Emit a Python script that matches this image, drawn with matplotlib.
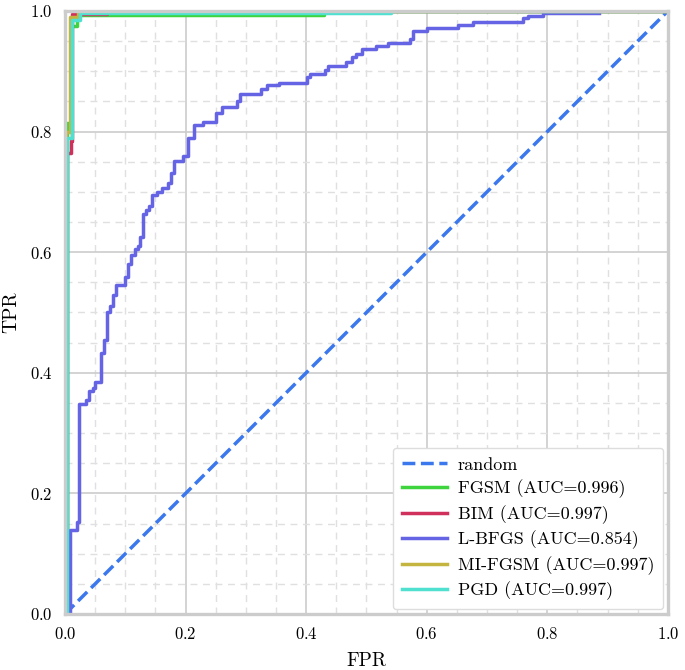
import matplotlib
matplotlib.use('Agg')
import matplotlib.pyplot as plt
from matplotlib.ticker import MultipleLocator

plt.rcParams['font.family'] = ['cmr10', 'DejaVu Serif']
plt.rcParams['axes.formatter.use_mathtext'] = True
plt.rcParams['mathtext.fontset'] = 'cm'

# ROC curves
fgsm_fpr = [0.0, 0.003, 0.003, 0.010, 0.010, 0.020, 0.020, 0.43, 0.43, 1.0]
fgsm_tpr = [0.0, 0.0, 0.815, 0.815, 0.975, 0.975, 0.994, 0.994, 1.0, 1.0]

bim_fpr = [0.0, 0.004, 0.004, 0.009, 0.009, 0.012, 0.012, 0.07, 0.07, 1.0]
bim_tpr = [0.0, 0.0, 0.765, 0.765, 0.785, 0.785, 0.995, 0.995, 1.0, 1.0]

lbfgs_fpr = [0.0, 0.008, 0.008, 0.019, 0.019, 0.023, 0.023, 0.035, 0.035, 0.040, 0.040,
             0.046, 0.046, 0.050, 0.050, 0.059, 0.059, 0.065, 0.065, 0.070, 0.070,
             0.075, 0.075, 0.080, 0.080, 0.085, 0.085, 0.0995, 0.0995, 0.105, 0.105,
             0.109, 0.109, 0.116, 0.116, 0.1205, 0.1205, 0.124, 0.124, 0.129, 0.129,
             0.134, 0.134, 0.140, 0.140, 0.145, 0.145, 0.152, 0.152, 0.160, 0.160,
             0.170, 0.170, 0.175, 0.175, 0.181, 0.181, 0.195, 0.195, 0.2045, 0.2045,
             0.214, 0.214, 0.229, 0.229, 0.250, 0.250, 0.260, 0.260, 0.286, 0.286,
             0.290, 0.290, 0.3245, 0.3245, 0.3355, 0.3355, 0.3555, 0.3555, 0.401, 0.401,
             0.407, 0.407, 0.431, 0.431, 0.437, 0.437, 0.466, 0.466, 0.4755, 0.4755,
             0.4826, 0.4826, 0.492, 0.492, 0.516, 0.516, 0.536, 0.536, 0.573, 0.573,
             0.5766, 0.5766, 0.601, 0.601, 0.652, 0.652, 0.677, 0.677, 0.759, 0.759,
             0.768, 0.768, 0.793, 0.793, 0.886]
lbfgs_tpr = [0.0, 0.0, 0.139, 0.139, 0.153, 0.153, 0.349, 0.349, 0.355, 0.355, 0.369,
             0.369, 0.374, 0.374, 0.385, 0.385, 0.433, 0.433, 0.454, 0.454, 0.500,
             0.500, 0.510, 0.510, 0.529, 0.529, 0.546, 0.546, 0.559, 0.559, 0.580,
             0.580, 0.595, 0.595, 0.606, 0.606, 0.610, 0.610, 0.626, 0.626, 0.664,
             0.664, 0.670, 0.670, 0.677, 0.677, 0.695, 0.695, 0.700, 0.700, 0.706,
             0.706, 0.714, 0.714, 0.731, 0.731, 0.752, 0.752, 0.760, 0.760, 0.790,
             0.790, 0.811, 0.811, 0.816, 0.816, 0.831, 0.831, 0.841, 0.841, 0.851,
             0.851, 0.862, 0.862, 0.870, 0.870, 0.877, 0.877, 0.881, 0.881, 0.891,
             0.891, 0.8955, 0.8955, 0.902, 0.902, 0.908, 0.908, 0.916, 0.916, 0.923,
             0.923, 0.9287, 0.9287, 0.9365, 0.9365, 0.942, 0.942, 0.947, 0.947, 0.953,
             0.953, 0.967, 0.967, 0.972, 0.972, 0.977, 0.977, 0.982, 0.982, 0.988,
             0.988, 0.992, 0.992, 0.996, 0.996]

mifgsm_fpr = [0.0, 0.002, 0.002, 0.008, 0.008, 0.022, 0.022, 1.0]
mifgsm_tpr = [0.0, 0.0, 0.80, 0.80, 0.99, 0.99, 1.0, 1.0]

pgd_fpr = [0.0, 0.003, 0.003, 0.011, 0.011, 0.025, 0.025, 0.54, 0.54, 1.0]
pgd_tpr = [0.0, 0.0, 0.79, 0.79, 0.985, 0.985, 0.997, 0.997, 1.0, 1.0]

fig = plt.figure(figsize=(6.85, 6.7), dpi=100)
ax = fig.add_axes([0.095, 0.0836, 0.880, 0.900])

lw = 2.5
ax.plot([0, 1], [0, 1], linestyle='--', color='#3b78ee', lw=lw, label='random')
ax.plot(fgsm_fpr, fgsm_tpr, color='#3ed43e', lw=lw, label='FGSM (AUC=0.996)')
ax.plot(bim_fpr, bim_tpr, color='#d0305c', lw=lw, label='BIM (AUC=0.997)')
ax.plot(lbfgs_fpr, lbfgs_tpr, color='#6464e4', lw=lw, label='L-BFGS (AUC=0.854)')
ax.plot(mifgsm_fpr, mifgsm_tpr, color='#c4b440', lw=lw, label='MI-FGSM (AUC=0.997)')
ax.plot(pgd_fpr, pgd_tpr, color='#50e0d0', lw=lw, label='PGD (AUC=0.997)')

ax.set_xlim(0, 1)
ax.set_ylim(0, 1)
ax.xaxis.set_major_locator(MultipleLocator(0.2))
ax.yaxis.set_major_locator(MultipleLocator(0.2))
ax.xaxis.set_minor_locator(MultipleLocator(0.05))
ax.yaxis.set_minor_locator(MultipleLocator(0.05))
ax.grid(True, which='major', color='#cccccc', lw=1.2)
ax.grid(True, which='minor', color='#e0e0e0', lw=1.0, linestyle='--', dashes=(5, 4))
ax.set_axisbelow(True)
ax.tick_params(which='both', length=0, labelsize=12, pad=9)
for s in ax.spines.values():
    s.set_color('#cccccc')
    s.set_linewidth(2.4)

ax.set_xlabel('FPR', fontsize=14, labelpad=7)
ax.set_ylabel('TPR', fontsize=14, labelpad=7)
ax.legend(loc='lower right', fontsize=13, frameon=True, edgecolor='#dddddd',
          framealpha=1.0, borderpad=0.5, handlelength=2.5, handletextpad=0.6,
          labelspacing=0.38, borderaxespad=0.25)

fig.savefig('out.png', dpi=100)
